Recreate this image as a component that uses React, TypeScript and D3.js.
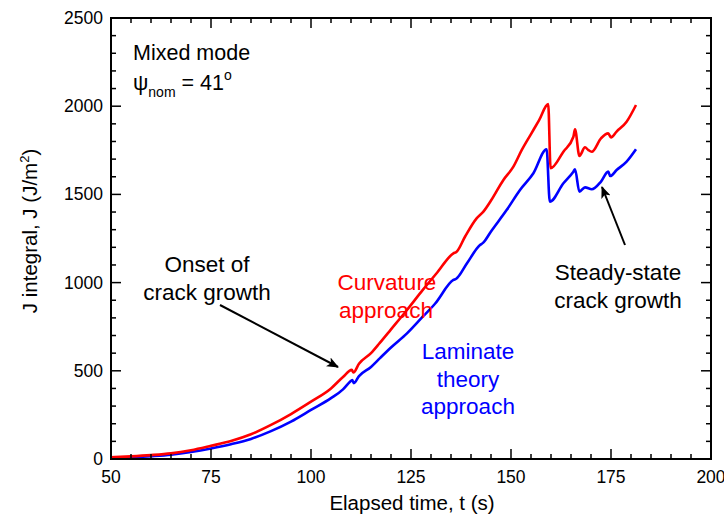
import React from "react";
import * as d3 from "d3";

// Elapsed time (s) and J integral (J/m^2) from the curvature approach
const curvTime = [50, 55, 60, 65, 70, 75, 80, 85, 90, 95, 100, 105, 108, 110.2, 110.6, 112, 115, 117.2, 120, 124, 128, 131.4, 135.6, 136.4, 138.5, 141.4, 143.1, 145, 148.1, 150.6, 152.7, 155, 157, 159.3, 159.9, 163.1, 165.6, 166, 167.1, 168.5, 169.3, 170.2, 172.5, 174.3, 175, 176.4, 178.9, 181.25];
const curvJ = [10, 15, 22, 32, 50, 75, 102, 140, 193, 255, 325, 400, 465, 505, 490, 540, 600, 658, 735, 845, 960, 1053, 1166, 1175, 1260, 1364, 1402, 1465, 1582, 1657, 1752, 1842, 1920, 2012, 1648, 1742, 1827, 1869, 1718, 1767, 1752, 1742, 1818, 1846, 1823, 1856, 1912, 2007];

// Same measurement evaluated with laminate theory
const lamTime = [50, 55, 60, 65, 70, 75, 80, 85, 90, 95, 100, 105, 108, 109.75, 110.3, 110.7, 112, 115, 117.25, 120, 124, 128, 131, 135.6, 136.3, 139, 142.25, 143, 145, 148.9, 152.25, 155.6, 158.9, 159.7, 163.1, 165.6, 166, 167.1, 168.5, 170.2, 172.5, 174.3, 174.8, 176.4, 178.9, 181.25];
const lamJ = [4, 9, 16, 25, 40, 60, 84, 114, 158, 212, 278, 345, 395, 438, 448, 430, 470, 522, 572, 632, 712, 808, 880, 1015, 1022, 1110, 1213, 1225, 1290, 1411, 1525, 1620, 1756, 1459, 1563, 1629, 1642, 1516, 1540, 1529, 1573, 1629, 1604, 1638, 1686, 1756];

const xTicks = [50, 75, 100, 125, 150, 175, 200];
const yTicks = [0, 500, 1000, 1500, 2000, 2500];

const W = 724;
const H = 525;
const M = { left: 111, right: 711, top: 18, bottom: 459 };
const FONT = "'Liberation Sans', Arial, sans-serif";

export default function App() {
  const x = d3.scaleLinear().domain([50, 200]).range([M.left, M.right]);
  const y = d3.scaleLinear().domain([0, 2500]).range([M.bottom, M.top]);

  const line = d3
    .line<[number, number]>()
    .x((d) => x(d[0]))
    .y((d) => y(d[1]))
    .curve(d3.curveMonotoneX);

  const curv = curvTime.map((t, i) => [t, curvJ[i]] as [number, number]);
  const lam = lamTime.map((t, i) => [t, lamJ[i]] as [number, number]);

  const xMinor = d3.range(50, 200.01, 5);
  const yMinor = d3.range(0, 2500.01, 100);

  const ticks: React.ReactNode[] = [];
  xMinor.forEach((v) => {
    const major = v % 25 === 0;
    const len = major ? 10 : 5;
    ticks.push(
      <line key={"xb" + v} x1={x(v)} x2={x(v)} y1={M.bottom} y2={M.bottom - len} stroke="#000" strokeWidth={1.5} />,
      <line key={"xt" + v} x1={x(v)} x2={x(v)} y1={M.top} y2={M.top + len} stroke="#000" strokeWidth={1.5} />
    );
  });
  yMinor.forEach((v) => {
    const major = v % 500 === 0;
    const len = major ? 10 : 5;
    ticks.push(
      <line key={"yl" + v} x1={M.left} x2={M.left + len} y1={y(v)} y2={y(v)} stroke="#000" strokeWidth={1.5} />,
      <line key={"yr" + v} x1={M.right} x2={M.right - len} y1={y(v)} y2={y(v)} stroke="#000" strokeWidth={1.5} />
    );
  });

  return (
    <svg
      width={W}
      height={H}
      style={{ position: "absolute", left: 0, top: 0, background: "#fff" }}
      fontFamily={FONT}
    >
      <defs>
        <marker id="arrowHead" viewBox="0 0 12 10" refX="11" refY="5" markerWidth="12" markerHeight="10" markerUnits="userSpaceOnUse" orient="auto">
          <path d="M0,0 L12,5 L0,10 L3,5 Z" fill="#000" />
        </marker>
      </defs>

      <rect x={0} y={0} width={W} height={H} fill="#fff" />

      <path d={line(lam) || ""} fill="none" stroke="#0000ff" strokeWidth={2.6} strokeLinejoin="round" />
      <path d={line(curv) || ""} fill="none" stroke="#ff0000" strokeWidth={2.6} strokeLinejoin="round" />

      {ticks}
      <rect x={M.left} y={M.top} width={M.right - M.left} height={M.bottom - M.top} fill="none" stroke="#000" strokeWidth={2} />

      {xTicks.map((v) => (
        <text key={"xl" + v} x={x(v)} y={483} textAnchor="middle" fontSize={17.5} fill="#000">
          {v}
        </text>
      ))}
      {yTicks.map((v) => (
        <text key={"yl" + v} x={103} y={y(v) + 6} textAnchor="end" fontSize={17.5} fill="#000">
          {v}
        </text>
      ))}

      <text x={412} y={510} textAnchor="middle" fontSize={20.5} fill="#000">
        Elapsed time, t (s)
      </text>
      <text transform="translate(37,231) rotate(-90)" textAnchor="middle" fontSize={20.5} fill="#000">
        J integral, J (J/m
        <tspan dy={-8} fontSize={13}>2</tspan>
        <tspan dy={8}>)</tspan>
      </text>

      <text x={133} y={60} fontSize={21.5} fill="#000">Mixed mode</text>
      <text x={133} y={90} fontSize={21.5} fill="#000">
        ψ
        <tspan dy={7} fontSize={14}>nom</tspan>
        <tspan dy={-7}> = 41</tspan>
        <tspan dy={-10} fontSize={14}>o</tspan>
      </text>

      <g fill="#ff0000" fontSize={22.5} textAnchor="middle">
        <text x={387} y={290}>Curvature</text>
        <text x={386} y={318}>approach</text>
      </g>
      <g fill="#0000ff" fontSize={22.5} textAnchor="middle">
        <text x={468} y={359}>Laminate</text>
        <text x={468} y={387}>theory</text>
        <text x={468} y={414}>approach</text>
      </g>
      <g fill="#000" fontSize={22.5} textAnchor="middle">
        <text x={207} y={272}>Onset of</text>
        <text x={207} y={300}>crack growth</text>
        <text x={618} y={280}>Steady-state</text>
        <text x={618} y={308}>crack growth</text>
      </g>

      <line x1={220} y1={305} x2={338} y2={367} stroke="#000" strokeWidth={2} markerEnd="url(#arrowHead)" />
      <line x1={625} y1={245} x2={602} y2={187} stroke="#000" strokeWidth={2} markerEnd="url(#arrowHead)" />
    </svg>
  );
}
